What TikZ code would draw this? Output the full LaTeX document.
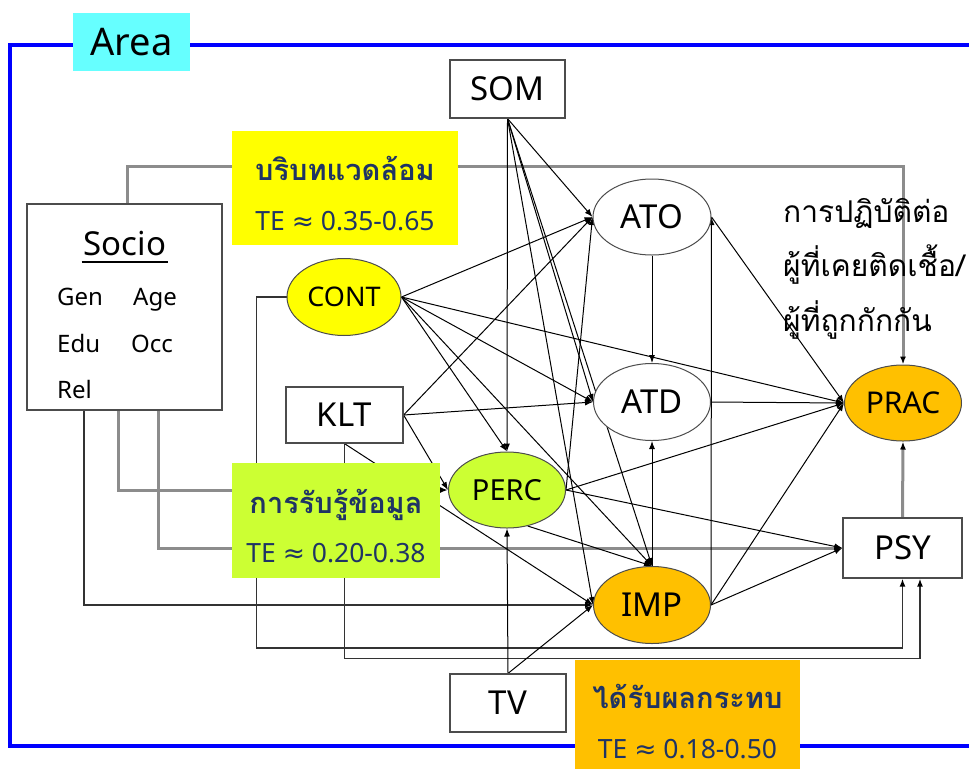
\documentclass[tikz,border=0pt]{standalone}
\usepackage{fontspec}
\setmainfont{Noto Sans}
\newfontfamily\thaifont[Script=Thai]{Loma}
\newfontfamily\symfont{DejaVu Sans}
\usetikzlibrary{shapes.geometric,arrows.meta,calc}
\pgfdeclarelayer{background}
\pgfsetlayers{background,main}
\definecolor{frameblue}{RGB}{0,0,255}
\definecolor{areacyan}{RGB}{102,255,255}
\definecolor{boxyellow}{RGB}{255,255,0}
\definecolor{boxgreen}{RGB}{204,255,51}
\definecolor{boxorange}{RGB}{255,192,0}
\definecolor{navy}{RGB}{31,52,100}
\begin{document}
\begin{tikzpicture}[x=1pt,y=-1pt,
  tip/.style={-{Latex[length=8pt,width=6pt,color=black]}},
  link/.style={tip, draw=black, line width=1pt},
  greylink/.style={tip, draw=black!45, line width=3pt},
  elbow/.style={tip, draw=black!80, line width=1.7pt},
  boxnode/.style={rectangle, draw=black!70, line width=1.2pt, fill=white, inner sep=0pt},
  latent/.style={ellipse, draw=black!70, line width=1pt, inner sep=0pt},
  big/.style={font=\fontsize{33}{36}\selectfont},
  note/.style={rectangle, inner sep=0pt},
  tetext/.style={text=navy, inner sep=0pt, anchor=base, font=\fontsize{26.5}{28}\selectfont},
  thaititle/.style={text=navy, inner sep=0pt, anchor=base, font=\thaifont\bfseries\fontsize{29}{34}\selectfont},
  item/.style={inner sep=0pt, anchor=base west, font=\fontsize{24}{26}\selectfont},
  practext/.style={inner sep=0pt, anchor=base west, font=\thaifont\fontsize{30}{32}\selectfont},
]
\useasboundingbox (0,0) rectangle (969,769);

% area label
\node[note, fill=areacyan, minimum width=117pt, minimum height=58pt,
      font=\fontsize{38}{40}\selectfont] (area) at (131.5,42) {Area};

% observed and latent variables
\node[boxnode, big, minimum width=115pt, minimum height=58pt] (som) at (507.5,89) {SOM};
\node[boxnode, minimum width=195pt, minimum height=206pt] (socio) at (124.5,307) {};
\node[latent, fill=boxyellow, minimum width=114pt, minimum height=77pt,
      font=\fontsize{27}{30}\selectfont] (cont) at (344,297) {CONT};
\node[boxnode, big, minimum width=117pt, minimum height=56pt] (klt) at (344.5,415) {KLT};
\node[latent, fill=boxgreen, minimum width=117pt, minimum height=76pt,
      font=\fontsize{29}{32}\selectfont] (perc) at (507,490) {PERC};
\node[latent, fill=white, big, minimum width=118pt, minimum height=76pt] (ato) at (652,217) {ATO};
\node[latent, fill=white, big, minimum width=117pt, minimum height=77pt] (atd) at (652,402) {ATD};
\node[latent, fill=boxorange, minimum width=117pt, minimum height=76pt,
      font=\fontsize{30}{32}\selectfont] (prac) at (903,403) {PRAC};
\node[latent, fill=boxorange, big, minimum width=117pt, minimum height=77pt] (imp) at (652,605) {IMP};
\node[boxnode, big, minimum width=119pt, minimum height=60pt] (psy) at (902.5,548) {PSY};
\node[boxnode, big, minimum width=116pt, minimum height=58pt] (tv) at (508,703) {TV};

% socio-demographic block
\node[inner sep=0pt, anchor=base, font=\fontsize{33}{36}\selectfont] (sociotitle) at (125,255) {Socio};
\draw[line width=2.8pt] ($(sociotitle.base west)+(-2,7)$) -- ($(sociotitle.base east)+(2,7)$);
\node[item] (gen) at (57,305) {Gen};
\node[item] (age) at (133,305) {Age};
\node[item] (edu) at (57,352) {Edu};
\node[item] (occ) at (131,352) {Occ};
\node[item] (rel) at (57,398) {Rel};

% total-effect notes
\node[note, fill=boxyellow, minimum width=226pt, minimum height=114pt] (ctx) at (345,188) {};
\node[thaititle] (ctxname) at (345,180) {บริบทแวดล้อม};
\node[tetext] (ctxte) at (345,230) {TE {\symfont ≈} 0.35-0.65};

\node[note, fill=boxgreen, minimum width=208pt, minimum height=115pt] (info) at (336,520.5) {};
\node[thaititle] (infoname) at (336,513) {การรับรู้ข้อมูล};
\node[tetext] (infote) at (336,562) {TE {\symfont ≈} 0.20-0.38};

\node[note, fill=boxorange, minimum width=225pt, minimum height=109pt] (hit) at (687.5,714.5) {};
\node[thaititle] (hitname) at (687.5,708) {ได้รับผลกระทบ};
\node[tetext] (hitte) at (687.5,758) {TE {\symfont ≈} 0.18-0.50};

% outcome caption
\node[practext] (cap1) at (783,222) {การปฏิบัติต่อ};
\node[practext] (cap2) at (783,276) {ผู้ที่เคยติดเชื้อ/};
\node[practext] (cap3) at (783,331) {ผู้ที่ถูกกักกัน};

\begin{pgfonlayer}{background}
  % study-area frame
  \draw[frameblue, line width=3.5pt] (975,45) -- (10,45) -- (10,746) -- (975,746);

  % paths from Socio
  \draw[greylink] (socio.north) ++(2.5,0) -- ++(0,-37) -| (prac.north);
  \draw[greylink] (socio.south) ++(-6.5,0) |- (perc.west);
  \draw[greylink] (socio.south) ++(33.5,0) |- (psy.west);
  \draw[elbow] (socio.south) ++(-40.5,0) |- (imp.west);

  % routed paths into PSY
  \draw[elbow] (cont.west) -- ++(-30,0) -- ++(0,351) -| (psy.south);
  \draw[elbow] (klt.south) -- ++(0,215) -| ($(psy.south)+(17.5,0)$);
  \draw[greylink] (psy.north) -- (prac.south);

  % SOM
  \foreach \t in {perc.north, ato.west, atd.west, imp.north, imp.west}
    \draw[link] (som.south) -- (\t);
  % CONT
  \foreach \t in {ato.west, atd.west, prac.west, perc.north, imp.north}
    \draw[link] (cont.east) -- (\t);
  % KLT
  \foreach \t in {ato.west, atd.west, perc.west}
    \draw[link] (klt.east) -- (\t);
  \draw[link] (klt.south) -- (imp.west);
  % PERC
  \foreach \t in {ato.west, prac.west, psy.west}
    \draw[link] (perc.east) -- (\t);
  \draw[link] (perc.-60) -- (imp.north);
  % ATO, ATD
  \draw[link] (ato.south) -- (atd.north);
  \draw[link] (ato.east) -- (prac.west);
  \draw[link] (atd.east) -- (prac.west);
  % IMP
  \draw[link] (imp.north) -- (atd.south);
  \draw[link] (imp.east) -- (ato.east);
  \draw[link] (imp.east) -- (prac.west);
  \draw[link] (imp.east) -- (psy.west);
  % TV
  \draw[link] (tv.north) -- (perc.south);
  \draw[link] (tv.north) -- (imp.west);
\end{pgfonlayer}
\end{tikzpicture}
\end{document}
